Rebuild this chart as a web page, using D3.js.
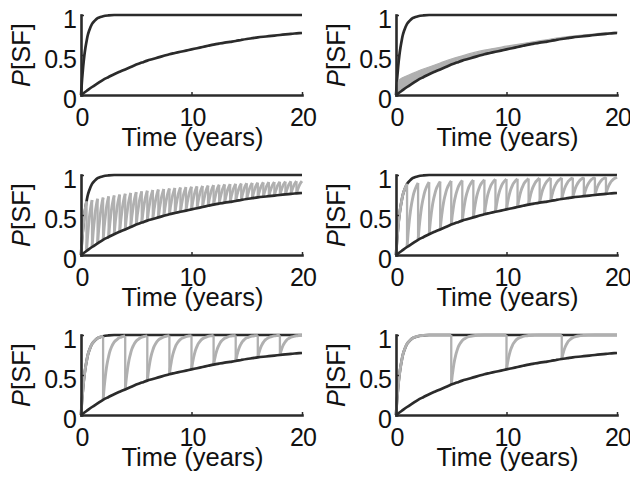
<!DOCTYPE html>
<html><head><meta charset="utf-8">
<script src="https://cdn.jsdelivr.net/npm/d3@7"></script>
<style>
body{margin:0;background:#fff}
svg{display:block}
text{font-family:"Liberation Sans",Arial,Helvetica,sans-serif;fill:#111}
</style>
</head><body>
<svg id="c" width="630" height="479"></svg>
<script>
// ---- data ----
const xTicks = [0, 10, 20];
const yTicks = [0, 0.5, 1];
const yTickLabels = ["0", "0.5", "1"];
const xLabel = "Time (years)";
const yLabelItalic = "P";
const yLabelRest = "[SF]";

// fast-rising curve (upper dark curve)
const fastTimes  = [0, 0.05, 0.1, 0.15, 0.2, 0.3, 0.4, 0.5, 0.6, 0.75, 1, 1.25, 1.5, 1.75, 2, 2.5, 3, 4, 5, 20];
const fastValues = [0, 0.10, 0.20, 0.28, 0.36, 0.49, 0.59, 0.67, 0.74, 0.81, 0.89, 0.93, 0.96, 0.975, 0.985, 0.995, 1, 1, 1, 1];

// slow-rising curve (lower dark curve)
const slowTimes  = [0,0.5,1,1.5,2,2.5,3,3.5,4,4.5,5,5.5,6,6.5,7,7.5,8,8.5,9,9.5,10,10.5,11,11.5,12,12.5,13,13.5,14,14.5,15,15.5,16,16.5,17,17.5,18,18.5,19,19.5,20];
const slowValues = [0,0.05,0.10,0.145,0.19,0.225,0.26,0.29,0.32,0.35,0.38,0.405,0.43,0.45,0.47,0.49,0.51,0.525,0.54,0.555,0.57,0.585,0.60,0.615,0.63,0.643,0.655,0.665,0.675,0.688,0.70,0.71,0.72,0.728,0.735,0.743,0.75,0.758,0.765,0.77,0.775];

// panel 2: grey band just above the slow curve
const bandTimes = [0, 0.1, 0.25, 0.5, 1, 1.5, 2, 3, 4, 5, 6, 8, 10, 12, 14, 16, 18, 20];
const bandHigh  = [0, 0.12, 0.18, 0.21, 0.24, 0.27, 0.30, 0.35, 0.40, 0.45, 0.49, 0.56, 0.61, 0.655, 0.70, 0.735, 0.765, 0.785];
const bandLow   = [0, 0.01, 0.025, 0.05, 0.10, 0.145, 0.19, 0.26, 0.32, 0.38, 0.43, 0.51, 0.57, 0.63, 0.675, 0.72, 0.75, 0.775];

// panels 3-6: re-dosing interval (years) of the grey saw-tooth curve
const panelKinds     = ["none", "band", "saw", "saw", "saw", "saw"];
const doseIntervals  = [null, null, 0.5, 1, 2, 5];

// ---- layout ----
const colX = [0, 315], rowY = [0, 160, 320];
const axL = 81, axR = 302, axT = 15, axB = 95;
const dark = "#2b2b2b", grey = "#b0b0b0";

const svg = d3.select("#c");
const x = d3.scaleLinear().domain([0, 20]).range([axL, axR]);
const y = d3.scaleLinear().domain([0, 1]).range([axB, axT]);
const line = d3.line().x(d => x(d[0])).y(d => y(d[1])).curve(d3.curveMonotoneX);

function slowAt(t) { return slowValues[slowTimes.indexOf(t)]; }

for (let i = 0; i < 6; i++) {
  const g = svg.append("g").attr("transform", `translate(${colX[i % 2]},${rowY[Math.floor(i / 2)]})`);

  // upper dark curve
  g.append("path").attr("d", line(fastTimes.map((t, j) => [t, fastValues[j]])))
    .attr("fill", "none").attr("stroke", dark).attr("stroke-width", 2.7);

  if (panelKinds[i] === "band") {
    const area = d3.area().x((t) => x(t)).y0((t, j) => y(bandLow[j])).y1((t, j) => y(bandHigh[j])).curve(d3.curveMonotoneX);
    g.append("path").attr("d", area(bandTimes)).attr("fill", grey).attr("stroke", grey).attr("stroke-width", 1.2);
  }
  if (panelKinds[i] === "saw") {
    const iv = doseIntervals[i];
    let start = 0, base = 0;
    const gg = g.append("g").attr("fill", "none").attr("stroke", grey).attr("stroke-width", 2.9);
    while (start < 20 - 1e-9) {
      const end = Math.min(start + iv, 20);
      const pts = [];
      fastTimes.forEach((ft, j) => {
        if (ft <= iv + 1e-9 && start + ft <= 20 + 1e-9) pts.push([start + ft, base + (1 - base) * fastValues[j]]);
      });
      gg.append("path").attr("d", line(pts));
      if (end < 20 - 1e-9) {
        const next = slowAt(Math.round(end * 2) / 2);
        const top = pts[pts.length - 1][1];
        gg.append("line").attr("x1", x(end)).attr("x2", x(end)).attr("y1", y(top)).attr("y2", y(next)).attr("stroke-width", 2.3);
        base = next;
      }
      start = end;
    }
  }

  // lower dark curve
  g.append("path").attr("d", line(slowTimes.map((t, j) => [t, slowValues[j]])))
    .attr("fill", "none").attr("stroke", dark).attr("stroke-width", 2.7);

  // axes
  const xa = g.append("g").attr("transform", `translate(0,${axB})`)
    .call(d3.axisBottom(x).tickValues(xTicks).tickFormat(d3.format("d")).tickSizeInner(-3).tickSizeOuter(0));
  const ya = g.append("g").attr("transform", `translate(${axL},0)`)
    .call(d3.axisLeft(y).tickValues(yTicks).tickFormat((d, j) => yTickLabels[j]).tickSizeInner(-3).tickSizeOuter(0));
  [xa, ya].forEach(a => {
    a.select(".domain").attr("stroke", dark).attr("stroke-width", 2.6).attr("stroke-linecap", "square");
    a.selectAll(".tick line").attr("stroke", dark).attr("stroke-width", 1.5);
    a.selectAll(".tick text").attr("font-size", 25).attr("fill", "#111").attr("letter-spacing", -1)
      .attr("font-family", "'Liberation Sans',Arial,Helvetica,sans-serif");
  });
  xa.selectAll(".tick text").attr("y", 31).attr("dy", null).attr("dx", 0.5);
  ya.selectAll(".tick text").attr("x", -5).attr("dy", null).attr("y", 12);

  // axis titles
  g.append("text").attr("x", (axL + axR) / 2 + 1).attr("y", 146).attr("text-anchor", "middle")
    .attr("font-size", 25.5).text(xLabel);
  const yl = g.append("text").attr("transform", `translate(30,${(axT + axB) / 2}) rotate(-90)`)
    .attr("text-anchor", "middle").attr("font-size", 25.5);
  yl.append("tspan").attr("font-style", "italic").text(yLabelItalic);
  yl.append("tspan").text(yLabelRest);
}
</script>
</body></html>
